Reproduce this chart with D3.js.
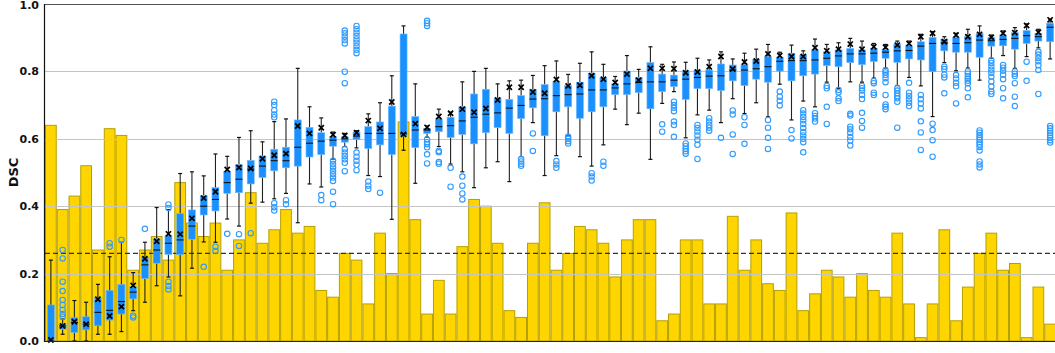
<!DOCTYPE html>
<html>
<head>
<meta charset="utf-8">
<script src="https://cdn.jsdelivr.net/npm/d3@7/dist/d3.min.js"></script>
<style>
html,body{margin:0;padding:0;background:#fff;}
svg{display:block;}
</style>
</head>
<body>
<svg id="chart" width="1055" height="353"></svg>
<script>
const categories = d3.range(1, 87).map(i => "C" + i);

const barValues = [0.64,0.39,0.43,0.52,0.27,0.63,0.61,0.21,0.27,0.31,
0.24,0.47,0.35,0.31,0.35,0.21,0.30,0.44,0.29,0.33,
0.39,0.32,0.34,0.15,0.13,0.26,0.24,0.11,0.32,0.20,
0.65,0.36,0.08,0.18,0.08,0.28,0.42,0.40,0.29,0.09,
0.07,0.29,0.41,0.21,0.26,0.34,0.33,0.29,0.19,0.30,
0.36,0.36,0.06,0.08,0.30,0.30,0.11,0.11,0.37,0.21,
0.30,0.17,0.15,0.38,0.09,0.14,0.21,0.19,0.13,0.20,
0.15,0.13,0.32,0.11,0.01,0.11,0.33,0.06,0.16,0.26,
0.32,0.21,0.23,0.01,0.16,0.05];

const whiskerLow = [0.0,0.02,0.0,0.0,0.02,0.02,0.028,0.09,0.115,0.164,
0.19,0.134,0.216,0.294,0.293,0.362,0.341,0.409,0.412,0.422,
0.438,0.351,0.466,0.457,0.54,0.577,0.573,0.491,0.488,0.361,
0.566,0.468,0.605,0.577,0.525,0.502,0.455,0.514,0.532,0.473,
0.547,0.648,0.491,0.55,0.611,0.547,0.519,0.582,0.688,0.642,
0.676,0.539,0.705,0.74,0.603,0.671,0.685,0.648,0.719,0.675,
0.707,0.665,0.762,0.656,0.712,0.695,0.768,0.75,0.769,0.768,
0.78,0.81,0.758,0.782,0.757,0.666,0.826,0.802,0.81,0.774,
0.839,0.847,0.809,0.844,0.87,0.837];

const q1 = [0.0,0.035,0.025,0.033,0.045,0.062,0.08,0.125,0.185,0.231,
0.257,0.256,0.302,0.374,0.386,0.438,0.44,0.466,0.485,0.505,
0.514,0.519,0.546,0.553,0.578,0.59,0.598,0.571,0.582,0.553,
0.608,0.574,0.616,0.621,0.604,0.613,0.585,0.618,0.633,0.616,
0.66,0.692,0.609,0.68,0.695,0.661,0.68,0.695,0.731,0.731,
0.737,0.689,0.74,0.755,0.717,0.749,0.749,0.743,0.772,0.758,
0.777,0.768,0.801,0.772,0.787,0.792,0.817,0.814,0.826,0.82,
0.829,0.839,0.827,0.837,0.834,0.799,0.861,0.857,0.857,0.842,
0.875,0.876,0.866,0.883,0.89,0.888];

const median = [0.0,0.045,0.055,0.05,0.085,0.091,0.117,0.145,0.226,0.27,
0.29,0.30,0.341,0.40,0.42,0.47,0.48,0.51,0.519,0.535,
0.535,0.575,0.587,0.593,0.596,0.60,0.608,0.616,0.616,0.616,
0.615,0.626,0.626,0.636,0.639,0.653,0.664,0.673,0.677,0.691,
0.699,0.718,0.719,0.728,0.731,0.733,0.745,0.745,0.751,0.763,
0.767,0.769,0.769,0.774,0.777,0.782,0.786,0.787,0.804,0.804,
0.808,0.814,0.83,0.832,0.832,0.834,0.839,0.846,0.852,0.852,
0.854,0.857,0.861,0.862,0.875,0.883,0.885,0.883,0.885,0.893,
0.891,0.895,0.898,0.906,0.903,0.931];

const q3 = [0.107,0.05,0.07,0.072,0.127,0.15,0.168,0.161,0.248,0.303,
0.312,0.378,0.389,0.431,0.455,0.503,0.523,0.536,0.549,0.569,
0.575,0.656,0.634,0.618,0.607,0.606,0.62,0.636,0.65,0.697,
0.911,0.666,0.631,0.659,0.664,0.695,0.733,0.747,0.721,0.717,
0.728,0.747,0.761,0.771,0.758,0.768,0.795,0.781,0.763,0.801,
0.782,0.826,0.792,0.789,0.801,0.804,0.804,0.822,0.819,0.821,
0.836,0.844,0.842,0.854,0.849,0.864,0.858,0.864,0.868,0.864,
0.868,0.866,0.881,0.876,0.888,0.901,0.896,0.901,0.903,0.913,
0.901,0.908,0.915,0.921,0.913,0.943];

const whiskerHigh = [0.24,0.065,0.12,0.115,0.168,0.25,0.293,0.203,0.293,0.396,
0.39,0.497,0.502,0.49,0.555,0.548,0.604,0.624,0.591,0.651,
0.659,0.809,0.695,0.662,0.62,0.616,0.624,0.674,0.707,0.787,
0.935,0.763,0.638,0.688,0.679,0.769,0.80,0.809,0.763,0.772,
0.774,0.788,0.817,0.831,0.791,0.824,0.858,0.821,0.785,0.847,
0.806,0.873,0.821,0.828,0.827,0.839,0.834,0.858,0.837,0.854,
0.866,0.88,0.857,0.878,0.861,0.896,0.88,0.885,0.898,0.89,
0.883,0.88,0.89,0.89,0.91,0.918,0.903,0.913,0.925,0.935,
0.908,0.92,0.93,0.941,0.925,0.955];

const means = [0.003,0.045,0.057,0.05,0.124,0.074,0.102,0.165,0.244,0.296,
0.318,0.317,0.364,0.424,0.443,0.509,0.515,0.512,0.541,0.551,
0.556,0.638,0.616,0.633,0.612,0.61,0.618,0.654,0.631,0.709,
0.613,0.645,0.634,0.666,0.676,0.688,0.679,0.69,0.715,0.753,
0.753,0.739,0.735,0.776,0.757,0.759,0.787,0.777,0.767,0.792,
0.774,0.809,0.809,0.808,0.796,0.798,0.814,0.844,0.807,0.828,
0.831,0.852,0.847,0.844,0.844,0.87,0.861,0.866,0.881,0.866,
0.873,0.872,0.878,0.883,0.903,0.913,0.888,0.908,0.903,0.91,
0.901,0.913,0.915,0.936,0.916,0.953];

const outliers = [
[],
[0.27,0.245,0.176,0.148,0.122,0.107,0.092,0.08,0.072],
[],[],[],
[0.29,0.28],
[0.30],
[0.075,0.07],
[0.333],
[],
[0.405,0.395,0.176,0.163,0.153],
[],[],
[0.22],
[0.28,0.267],
[0.318],
[0.317,0.282],
[0.32],
[],
[0.71,0.70,0.685,0.672,0.664,0.409,0.397,0.387],
[0.418,0.406],
[],[],
[0.433,0.418],
[0.535,0.525,0.515,0.505,0.495,0.485,0.475,0.443,0.406],
[0.921,0.913,0.903,0.893,0.883,0.799,0.765,0.569,0.559,0.549,0.539,0.529,0.504],
[0.935,0.925,0.915,0.905,0.895,0.885,0.875,0.864,0.854,0.559,0.547,0.535,0.523,0.507],
[0.473,0.461,0.451],
[0.44],
[],
[],
[],
[0.95,0.943,0.935,0.598,0.59,0.584,0.575,0.554,0.527],
[0.564,0.56,0.531,0.526],
[0.514,0.458],
[0.488,0.461,0.438,0.42],
[],[],[],[],
[0.54,0.533,0.526,0.52],
[0.616,0.564],
[],
[0.534,0.524,0.514],
[0.606,0.6,0.593,0.586],
[],
[0.498,0.488,0.476],
[0.532,0.52],
[],[],[],[],
[0.643,0.621],
[0.71,0.70,0.692,0.682,0.651,0.641,0.606],
[0.586,0.578,0.57,0.563,0.556],
[0.641,0.632,0.622,0.61,0.597,0.582,0.54],
[0.661,0.651,0.641,0.633,0.624],
[0.603],
[0.684,0.672,0.613,0.555],
[0.664,0.641,0.585],
[],
[0.656,0.633,0.603,0.57],
[0.74,0.725,0.713,0.699],
[0.626,0.601],
[0.685,0.675,0.665,0.655,0.644,0.632,0.62,0.61,0.6,0.59,0.56],
[0.676,0.668,0.66,0.651],
[0.757,0.75,0.695,0.644],
[0.745,0.738,0.72,0.712],
[0.674,0.669,0.636,0.628,0.618,0.605,0.595,0.58],
[0.757,0.75,0.743,0.73,0.718,0.677,0.653,0.633],
[0.771,0.765,0.737,0.73],
[0.803,0.797,0.789,0.78,0.768,0.73,0.702,0.695,0.688],
[0.75,0.743,0.735,0.727,0.72,0.71,0.633],
[0.766,0.737,0.727,0.717,0.707,0.697],
[0.73,0.717,0.705,0.69,0.652,0.619,0.567],
[0.645,0.626,0.596,0.547],
[0.814,0.807,0.79,0.782,0.735],
[0.789,0.779,0.766,0.756,0.705],
[0.8,0.793,0.785,0.778,0.772,0.765,0.75,0.723],
[0.625,0.618,0.611,0.604,0.597,0.59,0.583,0.576,0.565,0.533,0.524,0.515],
[0.833,0.825,0.815,0.805,0.796,0.784,0.77,0.755,0.74,0.733],
[0.819,0.811,0.802,0.79,0.777,0.75,0.72],
[0.8,0.793,0.786,0.765,0.725,0.697],
[0.829,0.772],
[0.858,0.85,0.84,0.83,0.818,0.804,0.733],
[0.638,0.631,0.624,0.617,0.61,0.603,0.596,0.589]
];

const yTicks = [0.0, 0.2, 0.4, 0.6, 0.8, 1.0];
const refLine = 0.26;
const yLabel = "DSC";

const svg = d3.select("#chart");
const margin = {left: 45, right: -1, top: 4, bottom: 12};
const W = 1055, H = 353;

const x = d3.scaleBand().domain(categories)
  .range([margin.left, W - margin.right]).padding(0);
const y = d3.scaleLinear().domain([0, 1]).range([H - margin.bottom, margin.top]);

const data = categories.map((c, i) => ({
  c, bar: barValues[i], lo: whiskerLow[i], q1: q1[i], med: median[i],
  q3: q3[i], hi: whiskerHigh[i], mean: means[i], out: outliers[i]
}));

// yellow bars
svg.append("g").selectAll("rect").data(data).join("rect")
  .attr("x", d => x(d.c) + 0.5)
  .attr("width", x.bandwidth() - 1)
  .attr("y", d => y(d.bar))
  .attr("height", d => y(0) - y(d.bar))
  .attr("fill", "#ffd500")
  .attr("stroke", "#b5a000")
  .attr("stroke-width", 1);

// grid
svg.append("g").selectAll("line").data(yTicks.filter(t => t > 0 && t < 1)).join("line")
  .attr("x1", margin.left).attr("x2", W)
  .attr("y1", d => Math.round(y(d)) + 0.5).attr("y2", d => Math.round(y(d)) + 0.5)
  .attr("stroke", "#c4c4c4").attr("stroke-width", 1.2);

// reference dashed line
svg.append("line")
  .attr("x1", margin.left).attr("x2", W)
  .attr("y1", y(refLine)).attr("y2", y(refLine))
  .attr("stroke", "#333").attr("stroke-width", 1.3)
  .attr("stroke-dasharray", "5,3");

// boxplots
const bw = 7, cap = 4;
const g = svg.append("g");
const cx = d => x(d.c) + x.bandwidth() / 2;

g.selectAll(".wl").data(data).join("line")
  .attr("x1", cx).attr("x2", cx)
  .attr("y1", d => y(d.q1)).attr("y2", d => y(d.lo))
  .attr("stroke", "#222").attr("stroke-width", 1.1);
g.selectAll(".wh").data(data).join("line")
  .attr("x1", cx).attr("x2", cx)
  .attr("y1", d => y(d.q3)).attr("y2", d => y(d.hi))
  .attr("stroke", "#222").attr("stroke-width", 1.1);
g.selectAll(".cl").data(data).join("line")
  .attr("x1", d => cx(d) - cap / 2).attr("x2", d => cx(d) + cap / 2)
  .attr("y1", d => y(d.lo)).attr("y2", d => y(d.lo))
  .attr("stroke", "#111").attr("stroke-width", 1.2);
g.selectAll(".ch").data(data).join("line")
  .attr("x1", d => cx(d) - cap / 2).attr("x2", d => cx(d) + cap / 2)
  .attr("y1", d => y(d.hi)).attr("y2", d => y(d.hi))
  .attr("stroke", "#111").attr("stroke-width", 1.2);

g.selectAll(".box").data(data).join("rect")
  .attr("x", d => cx(d) - bw / 2).attr("width", bw)
  .attr("y", d => y(d.q3)).attr("height", d => Math.max(0.5, y(d.q1) - y(d.q3)))
  .attr("fill", "#1a90ff")
  .attr("stroke", "#6fb8ff").attr("stroke-width", 0.6);

g.selectAll(".med").data(data).join("line")
  .attr("x1", d => cx(d) - bw / 2).attr("x2", d => cx(d) + bw / 2)
  .attr("y1", d => y(d.med)).attr("y2", d => y(d.med))
  .attr("stroke", "#111").attr("stroke-width", 1.1);

// outliers
g.selectAll(".ol").data(data.flatMap(d => d.out.map(v => ({d, v})))).join("circle")
  .attr("cx", o => cx(o.d)).attr("cy", o => y(o.v)).attr("r", 2.7)
  .attr("fill", "none").attr("stroke", "#2f9bff").attr("stroke-width", 1.1);

// mean markers
const ms = 2.6;
g.selectAll(".mean").data(data).join("path")
  .attr("d", d => {
    const X = cx(d), Y = y(d.mean);
    return `M${X-ms},${Y-ms}L${X+ms},${Y+ms}M${X-ms},${Y+ms}L${X+ms},${Y-ms}`;
  })
  .attr("stroke", "#000").attr("stroke-width", 1.7).attr("fill", "none");

// spines
svg.append("line").attr("x1", margin.left).attr("x2", W)
  .attr("y1", margin.top + 0.5).attr("y2", margin.top + 0.5)
  .attr("stroke", "#555").attr("stroke-width", 1.2);
svg.append("line").attr("x1", margin.left).attr("x2", W)
  .attr("y1", y(0) + 0.5).attr("y2", y(0) + 0.5)
  .attr("stroke", "#222").attr("stroke-width", 1.2);
svg.append("line").attr("x1", margin.left - 0.5).attr("x2", margin.left - 0.5)
  .attr("y1", margin.top).attr("y2", y(0) + 1)
  .attr("stroke", "#111").attr("stroke-width", 1.2);

// y tick labels (top label nudged so it stays fully inside the picture)
svg.append("g").selectAll("text").data(yTicks).join("text")
  .attr("x", 39).attr("y", d => Math.max(y(d), 5.5))
  .attr("dy", "0.36em")
  .attr("text-anchor", "end")
  .attr("font-family", "DejaVu Sans, sans-serif")
  .attr("font-weight", "bold")
  .attr("font-size", 11)
  .attr("fill", "#111")
  .text(d => d.toFixed(1));

svg.append("text")
  .attr("transform", `translate(18, ${(margin.top + y(0)) / 2}) rotate(-90)`)
  .attr("text-anchor", "middle")
  .attr("font-family", "DejaVu Sans, sans-serif")
  .attr("font-weight", "bold")
  .attr("font-size", 13)
  .attr("fill", "#111")
  .text(yLabel);
</script>
</body>
</html>
